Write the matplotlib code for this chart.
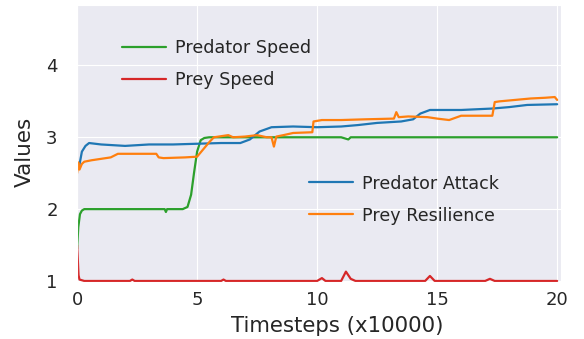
import matplotlib
matplotlib.use("Agg")
import matplotlib.pyplot as plt
import seaborn as sns

# Trait trajectories over training (x in units of 10000 timesteps)
pred_speed_x = [0.0, 0.05, 0.12, 0.2, 0.3, 1.0, 2.0, 3.0, 3.65, 3.7, 3.75, 4.4, 4.6, 4.75,
                4.87, 5.0, 5.15, 5.3, 5.5, 7.0, 9.0, 11.0, 11.3, 11.4, 13.0, 15.0, 17.0, 20.0]
pred_speed_y = [1.45, 1.75, 1.93, 1.98, 2.0, 2.0, 2.0, 2.0, 2.0, 1.96, 2.0, 2.0, 2.03, 2.2,
                2.5, 2.8, 2.96, 2.99, 3.0, 3.0, 3.0, 3.0, 2.97, 3.0, 3.0, 3.0, 3.0, 3.0]

prey_speed_x = [0.0, 0.03, 0.06, 0.1, 0.3, 2.2, 2.3, 2.4, 6.0, 6.1, 6.2, 10.0, 10.2, 10.35,
                11.0, 11.2, 11.4, 11.6, 14.5, 14.7, 14.9, 17.0, 17.2, 17.4, 20.0]
prey_speed_y = [1.5, 1.3, 1.08, 1.02, 1.0, 1.0, 1.02, 1.0, 1.0, 1.02, 1.0, 1.0, 1.04, 1.0,
                1.0, 1.13, 1.03, 1.0, 1.0, 1.07, 1.0, 1.0, 1.03, 1.0, 1.0]

pred_attack_x = [0.0, 0.1, 0.2, 0.35, 0.5, 1.0, 2.0, 3.0, 4.0, 5.0, 6.0, 6.8, 7.2, 7.6,
                 8.1, 9.0, 10.0, 11.0, 11.7, 12.5, 13.5, 14.0, 14.3, 14.7, 16.0, 17.3,
                 18.0, 18.75, 20.0]
pred_attack_y = [2.55, 2.62, 2.8, 2.88, 2.92, 2.9, 2.88, 2.9, 2.9, 2.91, 2.92, 2.92, 2.97,
                 3.08, 3.14, 3.15, 3.14, 3.15, 3.17, 3.2, 3.22, 3.25, 3.33, 3.38, 3.38,
                 3.4, 3.42, 3.45, 3.46]

prey_res_x = [0.0, 0.05, 0.1, 0.2, 0.3, 0.6, 1.0, 1.4, 1.7, 2.5, 3.3, 3.4, 3.6, 4.5, 5.0,
              5.3, 5.5, 5.7, 6.3, 6.5, 7.0, 7.5, 7.9, 8.1, 8.2, 8.3, 8.6, 9.0, 9.8, 9.85,
              10.2, 11.0, 12.0, 13.2, 13.3, 13.4, 13.8, 14.6, 15.0, 15.5, 16.0, 17.3,
              17.4, 17.6, 18.9, 19.5, 19.9, 20.0]
prey_res_y = [2.5, 2.65, 2.55, 2.63, 2.66, 2.68, 2.7, 2.72, 2.77, 2.77, 2.77, 2.72, 2.71,
              2.72, 2.73, 2.85, 2.93, 3.0, 3.03, 3.0, 3.01, 3.03, 3.0, 3.0, 2.87, 3.01,
              3.03, 3.06, 3.07, 3.22, 3.24, 3.24, 3.25, 3.26, 3.35, 3.28, 3.29, 3.28,
              3.26, 3.24, 3.3, 3.3, 3.49, 3.5, 3.54, 3.55, 3.56, 3.52]

sns.set_style("darkgrid")

fig = plt.figure(figsize=(5.84, 3.39), dpi=100)
ax = fig.add_axes([0.132, 0.168, 0.829, 0.817])

l_ps, = ax.plot(pred_speed_x, pred_speed_y, color="#2ca02c", lw=1.6, label="Predator Speed")
l_ys, = ax.plot(prey_speed_x, prey_speed_y, color="#d62728", lw=1.6, label="Prey Speed")
l_pa, = ax.plot(pred_attack_x, pred_attack_y, color="#1f77b4", lw=1.6, label="Predator Attack")
l_pr, = ax.plot(prey_res_x, prey_res_y, color="#ff7f0e", lw=1.6, label="Prey Resilience")

ax.set_xlim(0, 20.17)
ax.set_ylim(0.985, 4.84)
ax.set_xticks([0, 5, 10, 15, 20])
ax.set_yticks([1, 2, 3, 4])
ax.tick_params(axis="y", labelsize=13, pad=10.5)
ax.tick_params(axis="x", labelsize=13, pad=3)
ax.set_xlabel("Timesteps (x10000)", fontsize=15.3)
ax.set_ylabel("Values", fontsize=15.5)
ax.xaxis.set_label_coords(0.538, -0.122)
ax.yaxis.set_label_coords(-0.087, 0.469)

leg_kw = dict(loc="center left", frameon=False, fontsize=12.6, borderpad=0,
              borderaxespad=0, handlelength=2.5, handletextpad=0.5, labelspacing=0.8)
leg1 = ax.legend(handles=[l_ps, l_ys], bbox_to_anchor=(0.093, 0.787), **leg_kw)
ax.add_artist(leg1)
ax.legend(handles=[l_pa, l_pr], bbox_to_anchor=(0.480, 0.298), **leg_kw)

fig.savefig("out.png", dpi=100)
